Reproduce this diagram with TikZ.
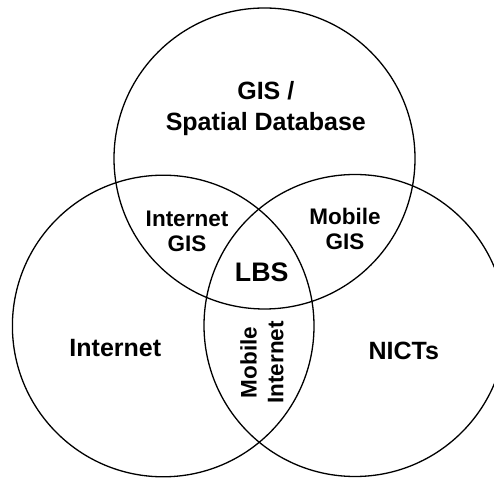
\documentclass[tikz,border=0pt]{standalone}
\usepackage{fontspec}
\setmainfont{Liberation Sans}
\begin{document}
\begin{tikzpicture}[x=1pt,y=1pt,
  ring/.style={draw=black,line width=1.3pt},
  lbl/.style={inner sep=0pt,anchor=base,font=\bfseries\fontsize{22.5}{25}\selectfont},
  biglbl/.style={lbl,font=\bfseries\fontsize{25}{28}\selectfont},
  corelbl/.style={lbl,font=\bfseries\fontsize{26.8}{30}\selectfont}]
\useasboundingbox (0,0) rectangle (494,478);
\clip (0,0) rectangle (494,478);

% the three sets
\coordinate (gisc) at (264.5,319.5);
\coordinate (netc) at (163.2,152);
\coordinate (nictc) at (355,152.5);
\draw[ring] (gisc) circle[radius=150.5];
\draw[ring] (netc) circle[radius=150.8];
\draw[ring] (nictc) circle[radius=151];

% set labels
\node[biglbl] (gis1) at (265.8,378) {GIS /};
\node[biglbl] (gis2) at (265.8,347.5) {Spatial Database};
\node[biglbl] (net) at (115.3,121.3) {Internet};
\node[biglbl] (nict) at (403.8,118) {NICTs};

% pairwise overlaps
\node[lbl] (ig1) at (187,251.5) {Internet};
\node[lbl] (ig2) at (187,226.3) {GIS};
\node[lbl] (mg1) at (345,253) {Mobile};
\node[lbl] (mg2) at (345,228) {GIS};
\node[lbl,rotate=90] (mi1) at (256.7,115.5) {Mobile};
\node[lbl,rotate=90] (mi2) at (283.3,115.5) {Internet};

% centre
\node[corelbl] (lbs) at (261.7,196.3) {LBS};
\end{tikzpicture}
\end{document}
